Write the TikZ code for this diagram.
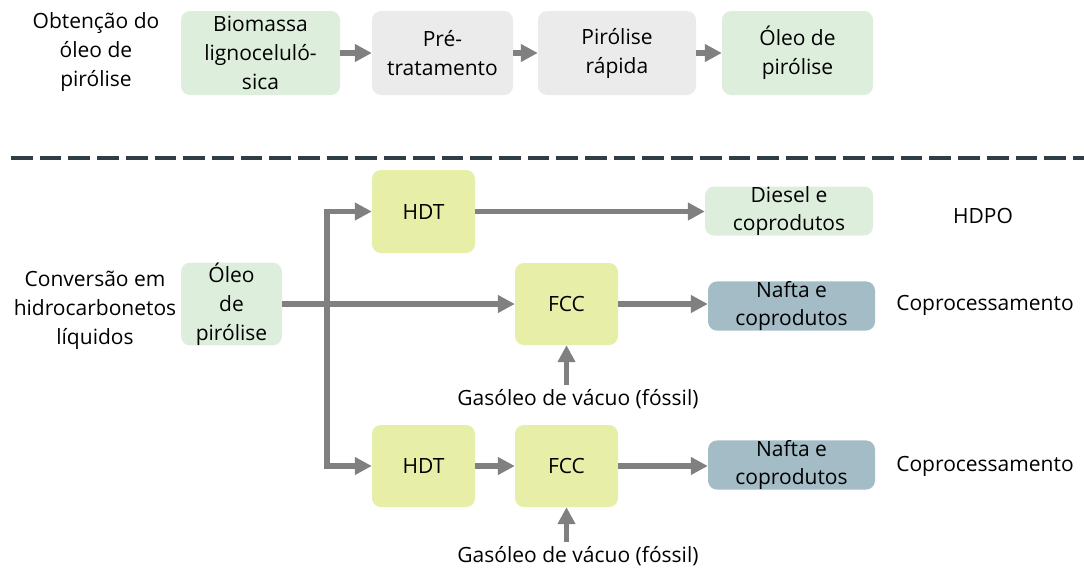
\documentclass[tikz,border=0pt]{standalone}
\usepackage{fontspec}
\setmainfont{Open Sans}
\usetikzlibrary{arrows.meta}
\definecolor{boxgreen}{HTML}{DDEFDC}
\definecolor{boxgray}{HTML}{EBEBEB}
\definecolor{boxlime}{HTML}{E6EEA8}
\definecolor{boxblue}{HTML}{A3BCC6}
\definecolor{flow}{HTML}{808080}
\definecolor{divider}{HTML}{2F3E44}
\tikzset{
  txt/.style={font=\fontsize{21}{29}\selectfont, align=center, inner sep=0pt, text=black},
  stagebox/.style={txt, rounded corners=9pt, draw=none},
  greenbox/.style={stagebox, fill=boxgreen},
  graybox/.style={stagebox, fill=boxgray},
  limebox/.style={stagebox, fill=boxlime},
  bluebox/.style={stagebox, fill=boxblue},
  conn/.style={draw=flow, line width=5.5pt, -{Triangle[length=17pt,width=17pt]}},
  conntwo/.style={draw=flow, line width=5.5pt, {Triangle[length=17pt,width=17pt]}-{Triangle[length=17pt,width=17pt]}},
}
\begin{document}
\begin{tikzpicture}[x=1pt,y=-1pt]
\useasboundingbox (0,0) rectangle (1084,568);
\fill[white] (0,0) rectangle (1084,568);

% first stage: producing the pyrolysis oil
\node[txt] (lblA) at (96,52) {Obtenção do\\óleo de\\pirólise};
\node[greenbox, minimum width=159pt, minimum height=84pt] (bio) at (260.5,53) {Biomassa\\lignoceluló-\\sica};
\node[graybox, minimum width=141pt, minimum height=84pt] (pre) at (442.5,53) {Pré-\\tratamento};
\node[graybox, minimum width=158pt, minimum height=84pt] (pir) at (617,53) {Pirólise\\rápida};
\node[greenbox, minimum width=151pt, minimum height=84pt] (oleo) at (797.5,53) {Óleo de\\pirólise};
\draw[conn] (bio) -- (pre);
\draw[conn] (pre) -- (pir);
\draw[conn] (pir) -- (oleo);

% divider
\draw[divider, line width=3.5pt, dash pattern=on 21.7pt off 7pt] (11,158) -- (1084,158);

% second stage: conversion routes
\node[txt] (lblB) at (95,310) {Conversão em\\hidrocarbonetos\\líquidos};
\node[greenbox, minimum width=101pt, minimum height=82pt] (oleoB) at (231.5,304) {Óleo\\de\\pirólise};

\node[limebox, minimum width=103pt, minimum height=83pt] (hdtA) at (423.5,211.5) {HDT};
\node[greenbox, minimum width=168pt, minimum height=48pt, font=\fontsize{21}{28}\selectfont] (diesel) at (789,211) {Diesel e\\coprodutos};
\node[txt, anchor=base] (hdpo) at (983,223) {HDPO};

\node[limebox, minimum width=103pt, minimum height=82pt] (fccA) at (566.5,304) {FCC};
\node[bluebox, minimum width=167pt, minimum height=48pt, font=\fontsize{21}{28}\selectfont] (naftaA) at (791.5,306) {Nafta e\\coprodutos};
\node[txt, anchor=base] (coA) at (985,310) {Coprocessamento};
\node[txt, anchor=base] (gasA) at (578,405) {Gasóleo de vácuo (fóssil)};

\node[limebox, minimum width=103pt, minimum height=82pt] (hdtB) at (423.5,466) {HDT};
\node[limebox, minimum width=103pt, minimum height=82pt] (fccB) at (566.5,466) {FCC};
\node[bluebox, minimum width=167pt, minimum height=48pt, font=\fontsize{21}{28}\selectfont] (naftaB) at (791.5,465) {Nafta e\\coprodutos};
\node[txt, anchor=base] (coB) at (985,471) {Coprocessamento};
\node[txt, anchor=base] (gasB) at (578,562) {Gasóleo de vácuo (fóssil)};

\coordinate (split) at (327,0);
\draw[conn] (oleoB.east |- fccA.west) -- (fccA.west);
\draw[conntwo] (hdtA.west) -- (split |- hdtA.west) -- (split |- hdtB.west) -- (hdtB.west);
\draw[conn] (hdtA.east) -- (hdtA.east -| diesel.west);
\draw[conn] (fccA.east) -- (fccA.east -| naftaA.west);
\draw[conn, shorten <=4pt] (fccA.south |- gasA.north) -- (fccA.south);
\draw[conn] (hdtB) -- (fccB);
\draw[conn] (fccB.east) -- (fccB.east -| naftaB.west);
\draw[conn, shorten <=4pt] (fccB.south |- gasB.north) -- (fccB.south);
\end{tikzpicture}
\end{document}
